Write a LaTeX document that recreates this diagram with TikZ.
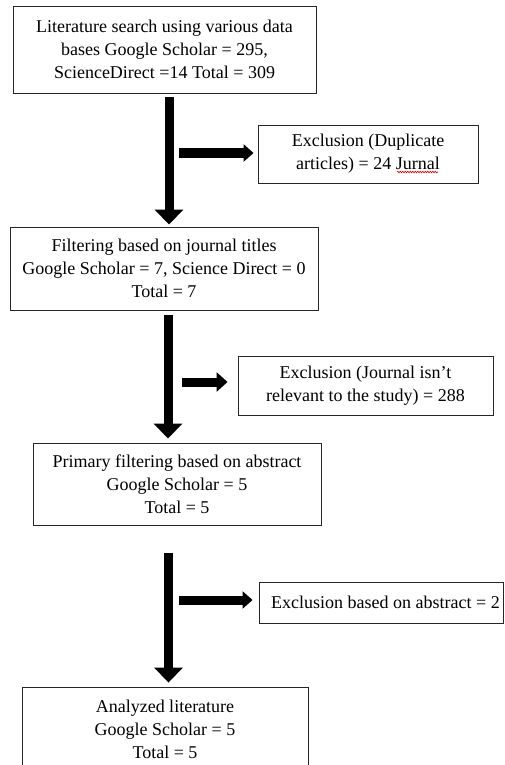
\documentclass[tikz,border=0pt]{standalone}
\usepackage{fontspec}
\setmainfont{Liberation Serif}
\usetikzlibrary{arrows.meta,calc,decorations.pathmorphing}
\begin{document}
\begin{tikzpicture}[x=1pt,y=-1pt,
  box/.style={draw=black!85, line width=0.9pt, align=center, inner sep=0pt,
    font=\fontsize{18}{23}\selectfont},
  varrow/.style={line width=9pt, -{Triangle[length=15pt,width=28pt]}},
  harrow/.style={line width=9.5pt, -{Triangle[length=10pt,width=17pt]}}]
\useasboundingbox (0,0) rectangle (504,765);
\clip (0,0) rectangle (504,765);
\fill[white] (0,0) rectangle (504,765);

\node[box, minimum width=303pt, minimum height=87pt] (b1) at (164.5,49.5)
  {Literature search using various data\\bases Google Scholar = 295,\\ScienceDirect =14 Total = 309};
\node[box, minimum width=220pt, minimum height=58pt] (b2) at (368,154)
  {Exclusion (Duplicate\\articles) = 24 Jurnal};
\node[box, minimum width=308pt, minimum height=83pt] (b3) at (164,268.5)
  {Filtering based on journal titles\\Google Scholar = 7, Science Direct = 0\\Total = 7};
\node[box, minimum width=255pt, minimum height=59pt] (b4) at (365.5,385.5)
  {Exclusion (Journal isn’t\\relevant to the study) = 288};
\node[box, minimum width=288pt, minimum height=82pt] (b5) at (177,484)
  {Primary filtering based on abstract\\Google Scholar = 5\\Total = 5};
\node[box, minimum width=244pt, minimum height=41pt] (b6) at (381,602.5)
  {\hspace*{9pt}Exclusion based on abstract = 2};
\node[box, minimum width=286pt, minimum height=85pt] (b7) at (165,729.5)
  {Analyzed literature\\Google Scholar = 5\\Total = 5};

\draw[red!80!black, line width=0.6pt, decorate,
  decoration={snake, amplitude=0.8pt, segment length=2.5pt}]
  ($(b2.center)+(29,18)$) -- ($(b2.center)+(70,18)$);

\coordinate (h1) at (179,153);
\coordinate (h2) at (182,382);
\coordinate (v3) at (168.5,553);
\coordinate (h3) at (179,600);

\draw[varrow, shorten <=4pt, shorten >=2pt] ([xshift=4.5pt]b1.south) -- ([xshift=4.5pt]b1.south |- b3.north);
\draw[harrow, shorten >=4pt] (h1) -- (h1 -| b2.west);
\draw[varrow, shorten <=5pt, shorten >=4pt] ([xshift=4pt]b3.south) -- ([xshift=4pt]b3.south |- b5.north);
\draw[line width=9pt, -{Triangle[length=11pt,width=19pt]}, shorten >=10pt] (h2) -- (h2 -| b4.west);
\draw[varrow, shorten >=4pt] (v3) -- (v3 |- b7.north);
\draw[harrow, line width=9pt, shorten >=6pt] (h3) -- (h3 -| b6.west);
\end{tikzpicture}
\end{document}
